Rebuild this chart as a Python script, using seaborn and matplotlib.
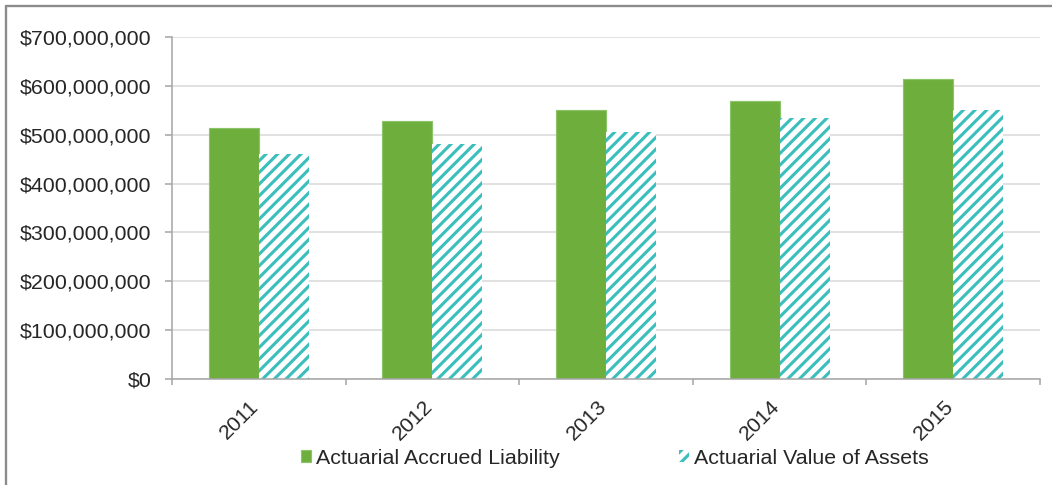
import matplotlib
matplotlib.use("Agg")
import matplotlib.pyplot as plt
import matplotlib.ticker as mticker
import matplotlib.transforms as mtrans
from matplotlib.lines import Line2D
import numpy as np
import pandas as pd
import seaborn as sns

years = ["2011", "2012", "2013", "2014", "2015"]
liability = [513_000_000, 529_000_000, 550_000_000, 568_000_000, 615_000_000]
assets = [460_000_000, 482_000_000, 505_000_000, 534_000_000, 550_000_000]
series_names = ["Actuarial Accrued Liability", "Actuarial Value of Assets"]
y_ticks = [0, 100_000_000, 200_000_000, 300_000_000, 400_000_000,
           500_000_000, 600_000_000, 700_000_000]

GREEN = "#6EAE3D"
TEAL = "#3CBFBC"
TXT = "#262626"
FS = 11

sns.set_style("white")
plt.rcParams["font.family"] = ["Liberation Sans", "DejaVu Sans"]
plt.rcParams["hatch.linewidth"] = 1.6
plt.rcParams["hatch.color"] = TEAL

df = pd.DataFrame({
    "Year": years * 2,
    "Value": liability + assets,
    "Series": [series_names[0]] * len(years) + [series_names[1]] * len(years),
})

DPI = 140
fig = plt.figure(figsize=(1052 / DPI, 485 / DPI), dpi=DPI)
ax = fig.add_axes([172 / 1052, 1 - 379 / 485, (1040 - 172) / 1052, (379 - 37) / 485])

sns.barplot(data=df, x="Year", y="Value", hue="Series", palette=[GREEN, TEAL],
            width=0.576, saturation=1, ax=ax, legend=False, errorbar=None)

# style bars
for p in ax.containers[0]:
    p.set_facecolor(GREEN)
    p.set_edgecolor("#8CC46A")
    p.set_linewidth(0.6)
for p in ax.containers[1]:
    p.set_facecolor("white")
    p.set_edgecolor(TEAL)
    p.set_linewidth(0)
    p.set_hatch("////")

ax.set_xlim(-0.5, len(years) - 0.5)
ax.set_ylim(0, 700_000_000)
ax.set_yticks(y_ticks)
ax.yaxis.set_major_formatter(mticker.StrMethodFormatter("${x:,.0f}"))
ax.set_xlabel("")
ax.set_ylabel("")

ax.yaxis.grid(True, color="#D9D9D9", linewidth=0.8)
ax.xaxis.grid(False)
ax.set_axisbelow(True)

for s in ["top", "right"]:
    ax.spines[s].set_visible(False)
for s in ["left", "bottom"]:
    ax.spines[s].set_color("#A6A6A6")
    ax.spines[s].set_linewidth(0.8)

ax.tick_params(axis="y", which="major", length=3.6, width=0.8, color="#A6A6A6",
               direction="out", pad=7, labelsize=FS, labelcolor=TXT, left=True)
ax.tick_params(axis="x", which="major", length=0, pad=9, labelsize=FS, labelcolor=TXT)
ax.set_xticks(np.arange(-0.5, len(years)), minor=True)
ax.tick_params(axis="x", which="minor", length=3.2, width=0.8, color="#A6A6A6",
               direction="out", bottom=True)
offset = mtrans.ScaledTranslation(4 / DPI, 0, fig.dpi_scale_trans)
for lab in ax.get_xticklabels():
    lab.set_rotation(45)
    lab.set_ha("right")
    lab.set_transform(lab.get_transform() + offset)

handles = [ax.containers[0][0], ax.containers[1][0]]
leg = fig.legend(handles, series_names, loc="center", bbox_to_anchor=(615 / 1052, 1 - 458 / 485),
                 ncol=2, frameon=False, fontsize=FS, handlelength=0.45, handleheight=0.45,
                 handletextpad=0.25, columnspacing=5.6, labelcolor=TXT, borderaxespad=0)

# outer frame (top and left edges visible)
fig.add_artist(Line2D([6 / 1052, 6 / 1052], [0, 1 - 6 / 485], transform=fig.transFigure,
                      color="#8C8C8C", linewidth=1.2))
fig.add_artist(Line2D([6 / 1052, 1], [1 - 6 / 485, 1 - 6 / 485], transform=fig.transFigure,
                      color="#8C8C8C", linewidth=1.2))

fig.savefig("out.png", dpi=DPI, facecolor="white")
